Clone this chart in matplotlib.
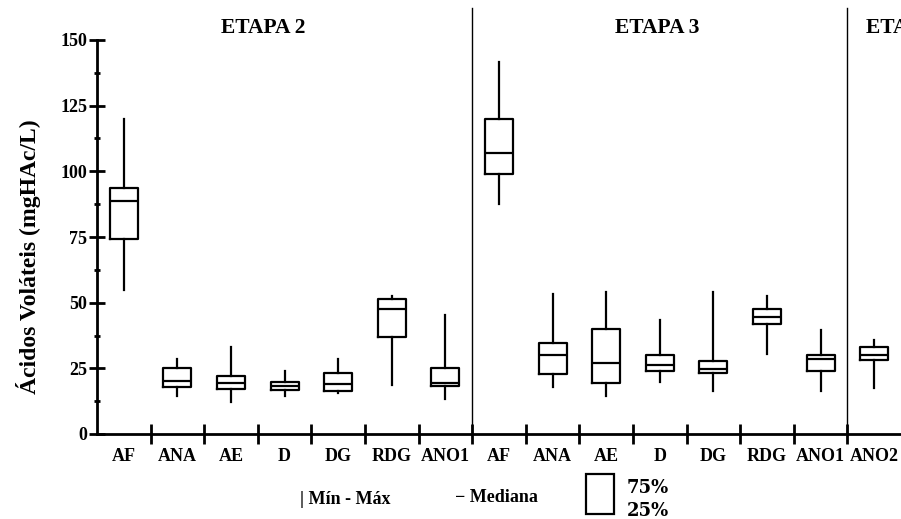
import matplotlib
matplotlib.use('Agg')
import matplotlib.pyplot as plt
from matplotlib.patches import Rectangle

SERIF = 'Liberation Serif'

categorias = ['AF', 'ANA', 'AE', 'D', 'DG', 'RDG', 'ANO1',
              'AF', 'ANA', 'AE', 'D', 'DG', 'RDG', 'ANO1', 'ANO2']
minimos = [55, 14.5, 12, 14.5, 15.7, 18.7, 13.2,
           87.5, 18, 14.5, 19.9, 16.2, 30.5, 16.2, 17.6]
q1 = [74.2, 17.8, 17, 16.6, 16.4, 36.8, 18.3,
      99, 22.7, 19.5, 23.9, 23.2, 41.9, 24, 28.2]
medianas = [88.7, 20.3, 19.5, 18.3, 19.2, 47.6, 19.4,
            106.8, 30.2, 27.1, 26.4, 24.7, 44.7, 28.4, 30.1]
q3 = [93.5, 25.2, 22.2, 19.7, 23.3, 51.3, 25.2,
      119.8, 34.6, 40.1, 30.2, 27.8, 47.6, 30.2, 33.2]
maximos = [120, 28.5, 33.2, 24, 28.5, 52.5, 45.3,
           141.5, 53.4, 53.9, 43.4, 53.9, 52.7, 39.6, 35.9]

etapas = ['ETAPA 2', 'ETAPA 3', 'ETAPA 4']
etapa_fim = [6, 13, 14]

fig = plt.figure(figsize=(9.01, 5.19), dpi=100)
ax = fig.add_axes([97 / 901, 85 / 519, 804 / 901, 394 / 519])

stats = []
for i in range(len(categorias)):
    stats.append({'whislo': minimos[i], 'q1': q1[i], 'med': medianas[i],
                  'q3': q3[i], 'whishi': maximos[i]})

lw = 1.6
ax.bxp(stats, positions=list(range(len(categorias))), widths=0.52,
       showcaps=False, showfliers=False,
       boxprops=dict(color='black', linewidth=lw),
       whiskerprops=dict(color='black', linewidth=lw),
       medianprops=dict(color='black', linewidth=lw))

ax.set_xlim(-0.5, len(categorias) - 0.5)
ax.set_ylim(0, 150)

for s in ['top', 'right']:
    ax.spines[s].set_visible(False)
ax.spines['left'].set_linewidth(2)
ax.spines['bottom'].set_linewidth(2)

yticks = [0, 25, 50, 75, 100, 125, 150]
ax.set_yticks(yticks)
ax.set_yticks([12.5, 37.5, 62.5, 87.5, 112.5, 137.5], minor=True)
ax.tick_params(axis='y', which='major', direction='inout', length=12, width=2, pad=1)
ax.tick_params(axis='y', which='minor', direction='inout', length=5, width=2)
ax.set_yticklabels([str(v) for v in yticks],
                   fontfamily=SERIF, fontweight='bold', fontsize=13)

ax.set_xticks(list(range(len(categorias))))
ax.set_xticks([i + 0.5 for i in range(len(categorias) - 1)], minor=True)
ax.tick_params(axis='x', which='major', length=0, pad=10)
ax.tick_params(axis='x', which='minor', direction='inout', length=14, width=2)
ax.set_xticklabels(categorias, fontfamily=SERIF, fontweight='bold', fontsize=13)

# separadores entre etapas
for fim in etapa_fim[:-1]:
    ax.axvline(fim + 0.5, ymin=0, ymax=1.081, color='black', linewidth=1, clip_on=False)

# títulos das etapas (o da etapa 4 fica cortado na borda, como no original)
ax.text(2.6, 1.031, etapas[0], transform=ax.get_xaxis_transform(), ha='center',
        va='center', fontfamily=SERIF, fontweight='bold', fontsize=15.5, clip_on=False)
ax.text(9.95, 1.031, etapas[1], transform=ax.get_xaxis_transform(), ha='center',
        va='center', fontfamily=SERIF, fontweight='bold', fontsize=15.5, clip_on=False)
ax.text(13.85, 1.031, etapas[2], transform=ax.get_xaxis_transform(), ha='left',
        va='center', fontfamily=SERIF, fontweight='bold', fontsize=15.5, clip_on=False)

ax.set_ylabel('Ácidos Voláteis (mgHAc/L)', fontfamily=SERIF, fontweight='bold',
              fontsize=17)
ax.yaxis.set_label_coords(-0.07, 0.45)

# legenda
fig.text(300 / 901, 1 - 499 / 519, '| Mín - Máx', fontfamily=SERIF, fontweight='bold',
         fontsize=13, va='center', ha='left')
fig.text(455 / 901, 1 - 497 / 519, '− Mediana', fontfamily=SERIF, fontweight='bold',
         fontsize=13, va='center', ha='left')
fig.add_artist(Rectangle((586 / 901, 1 - 514 / 519), 28 / 901, 40 / 519,
                         transform=fig.transFigure, fill=False, edgecolor='black',
                         linewidth=1.6))
fig.text(627 / 901, 1 - 488 / 519, '75%', fontfamily='DejaVu Serif', fontweight='bold',
         fontsize=13, va='center', ha='left')
fig.text(627 / 901, 1 - 511 / 519, '25%', fontfamily='DejaVu Serif', fontweight='bold',
         fontsize=13, va='center', ha='left')

fig.savefig('out.png', dpi=100)
